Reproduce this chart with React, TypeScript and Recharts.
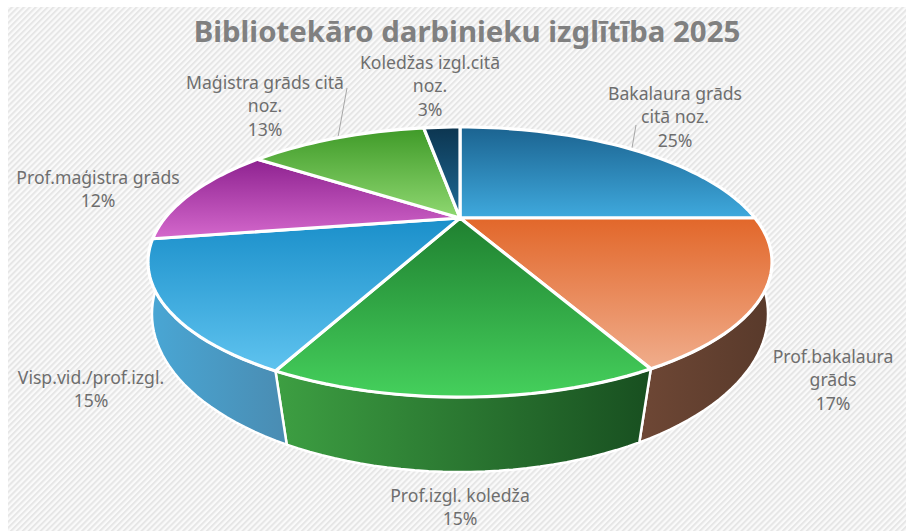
import React from "react";
import { PieChart, Pie } from "recharts";

const TITLE = "Bibliotekāro darbinieku izglītība 2025";
const categories = [
  "Bakalaura grāds citā noz.",
  "Prof.bakalaura grāds",
  "Prof.izgl. koledža",
  "Visp.vid./prof.izgl.",
  "Prof.maģistra grāds",
  "Maģistra grāds citā noz.",
  "Koledžas izgl.citā noz.",
];
const values = [25, 17.4, 14.9, 15.1, 12.4, 12.6, 2.6];
const labelLines = [
  ["Bakalaura grāds", "citā noz."],
  ["Prof.bakalaura", "grāds"],
  ["Prof.izgl. koledža"],
  ["Visp.vid./prof.izgl."],
  ["Prof.maģistra grāds"],
  ["Maģistra grāds citā", "noz."],
  ["Koledžas izgl.citā", "noz."],
];
const tableData = categories.map((name, i) => ({ name, value: values[i], index: i }));

// Styling and layout
const W = 906, H = 531;
const topColors = [
  ["#1b6390", "#3fa9dd"],
  ["#e2672a", "#f0ad8c"],
  ["#1f8030", "#45d05c"],
  ["#1a8fca", "#5fc3ef"],
  ["#8e2290", "#d468cc"],
  ["#3f9a28", "#8fd871"],
  ["#0c3550", "#1f6c98"],
];
const wallColors: Record<number, string[]> = {
  1: ["#6e4735", "#593a2b"],
  2: ["#3d9f42", "#184f20"],
  3: ["#49a6d4", "#4a8cb2"],
};
const labelAnchors = [
  [675, 95], [833, 358], [460, 497], [91, 379], [98, 179], [265, 84], [430, 64],
];
// Perspective projection of a disc: top face and bottom face of the pie
const TOP = { cy: 218, A: 295, B: 120.7, k: 0.326 };
const BOT = { cy: 271.3, A: 296.6, B: 146.5, k: 0.27 };
const WALL_TOP_LIMITS = [120.7, 239.3];
const WALL_BOT_LIMITS = [97.8, 262.2];
const CX = 460;

type Disc = typeof TOP;
const proj = (d: Disc, deg: number) => {
  const r = (deg * Math.PI) / 180;
  const u = Math.sin(r), v = Math.cos(r);
  const s = 1 + d.k * v;
  return [CX + (d.A * u) / s, d.cy - (d.B * v) / s];
};
const arcPts = (d: Disc, a: number, b: number) => {
  const n = Math.max(2, Math.ceil(Math.abs(b - a) / 2));
  const out: string[] = [];
  for (let i = 0; i <= n; i++) {
    const p = proj(d, a + ((b - a) * i) / n);
    out.push(`${p[0].toFixed(2)} ${p[1].toFixed(2)}`);
  }
  return out;
};

const TopShape = (props: any) => {
  const a = 90 - props.startAngle, b = 90 - props.endAngle;
  const i = props.payload?.index ?? props.index;
  const path = `M${CX} ${TOP.cy}L${arcPts(TOP, a, b).join("L")}Z`;
  return <path d={path} fill={`url(#top${i})`} stroke="#fff" strokeWidth={3.2} strokeLinejoin="round" />;
};

const WallShape = (props: any) => {
  const a = 90 - props.startAngle, b = 90 - props.endAngle;
  const ta = Math.max(a, WALL_TOP_LIMITS[0]), tb = Math.min(b, WALL_TOP_LIMITS[1]);
  if (tb <= ta) return <g />;
  const i = props.payload?.index ?? props.index;
  const ba = a <= WALL_TOP_LIMITS[0] ? WALL_BOT_LIMITS[0] : a;
  const bb = b >= WALL_TOP_LIMITS[1] ? WALL_BOT_LIMITS[1] : b;
  const path = `M${arcPts(TOP, ta, tb).join("L")}L${arcPts(BOT, bb, ba).join("L")}Z`;
  return <path d={path} fill={`url(#wall${i})`} stroke="#fff" strokeWidth={2.5} strokeLinejoin="round" />;
};

const renderLabel = (props: any) => {
  const i = props.payload?.index ?? props.index;
  const [x, y] = labelAnchors[i];
  const lines = [...labelLines[i], `${Math.round(values[i])}%`];
  return (
    <text x={x} y={y} textAnchor="middle" fontFamily="'Noto Sans', sans-serif" fontSize={17.6} fill="#6e6e6e">
      {lines.map((t, k) => (
        <tspan key={k} x={x} y={y + k * 23.5} dominantBaseline="middle">{t}</tspan>
      ))}
    </text>
  );
};

export default function App() {
  return (
    <div style={{ position: "absolute", left: 0, top: 0, width: W, height: H, background: "#fff" }}>
      <PieChart width={W} height={H} margin={{ top: 0, right: 0, bottom: 0, left: 0 }}>
        <defs>
          <pattern id="hatch" width="4.2" height="4.2" patternUnits="userSpaceOnUse" patternTransform="rotate(45)">
            <rect width="4.2" height="4.2" fill="#fafafa" />
            <rect width="2" height="4.2" fill="#e6e6e6" />
          </pattern>
          {topColors.map((c, i) => (
            <linearGradient key={i} id={`top${i}`} x1="0" y1="0" x2="0" y2="1">
              <stop offset="0" stopColor={c[0]} />
              <stop offset="1" stopColor={c[1]} />
            </linearGradient>
          ))}
          {Object.keys(wallColors).map((k) => (
            <linearGradient key={k} id={`wall${k}`} x1="0" y1="0" x2="1" y2="0">
              <stop offset="0" stopColor={wallColors[+k][0]} />
              <stop offset="1" stopColor={wallColors[+k][1]} />
            </linearGradient>
          ))}
        </defs>
        <rect x={8} y={7} width={898} height={524} fill="url(#hatch)" />
        <text x={467} y={42} textAnchor="middle" fontFamily="'Noto Sans', sans-serif" fontWeight={700} fontSize={29.4} fill="#808080">
          {TITLE}
        </text>
        <line x1={347} y1={88} x2={338} y2={137} stroke="#a6a6a6" strokeWidth={1} />
        <line x1={636} y1={125} x2={632} y2={148} stroke="#a6a6a6" strokeWidth={1} />
        <Pie data={tableData} dataKey="value" nameKey="name" cx={CX} cy={TOP.cy} outerRadius={295}
          startAngle={90} endAngle={-270} isAnimationActive={false} shape={WallShape} label={false} labelLine={false} />
        <Pie data={tableData} dataKey="value" nameKey="name" cx={CX} cy={TOP.cy} outerRadius={295}
          startAngle={90} endAngle={-270} isAnimationActive={false} shape={TopShape} label={renderLabel} labelLine={false} />
      </PieChart>
    </div>
  );
}
